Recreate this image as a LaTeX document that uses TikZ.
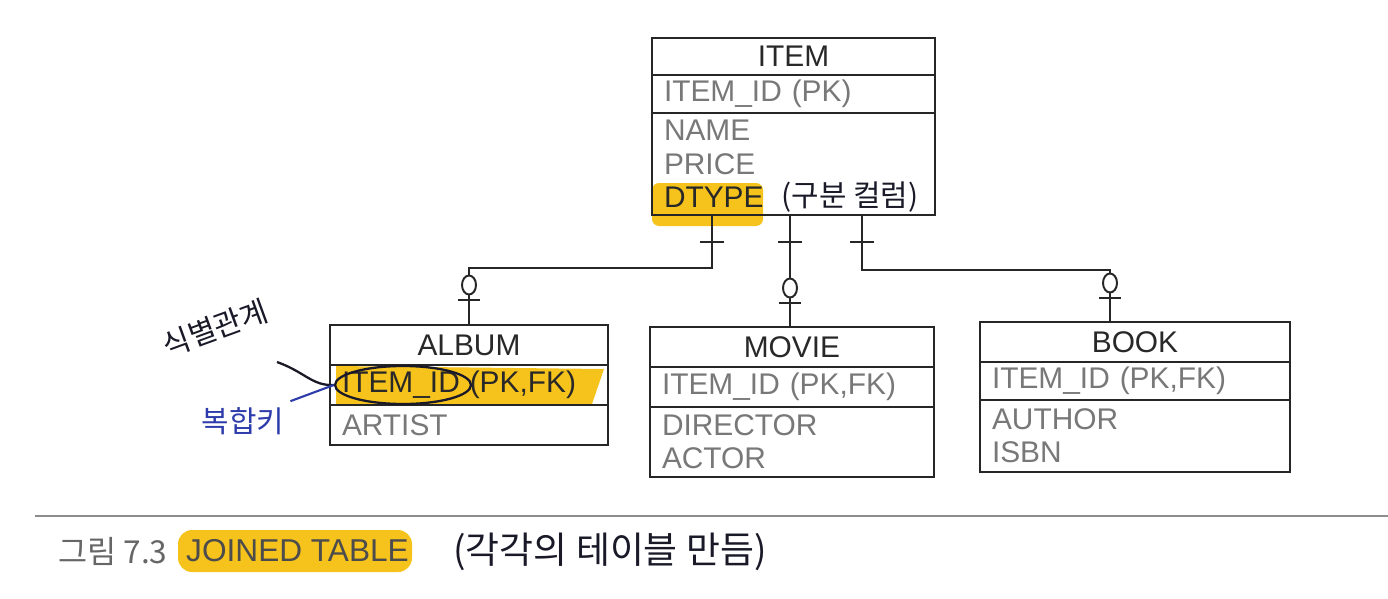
\documentclass[tikz,border=0pt]{standalone}
\usepackage{fontspec}
\setmainfont{Liberation Sans}
\newfontfamily\kr{Noto Sans CJK KR}
\usetikzlibrary{positioning,shapes.geometric}

\definecolor{hilite}{RGB}{246,194,28}
\definecolor{hdrgray}{RGB}{40,40,40}
\definecolor{fldgray}{RGB}{120,120,120}
\definecolor{pen}{RGB}{25,25,40}
\definecolor{bluepen}{RGB}{45,60,170}

\tikzset{
  cell/.style={draw=black!85, line width=1.3pt, rectangle, anchor=north west,
    inner xsep=0.24cm, inner ysep=0pt, outer sep=0pt, align=left, text=fldgray,
    font=\fontsize{17}{19}\selectfont},
  hdrcell/.style={cell, align=center, text=hdrgray},
  link/.style={line width=1.1pt, draw=black!85},
  note/.style={text=pen, font=\kr\fontsize{17}{17}\selectfont},
}

\begin{document}
\begin{tikzpicture}[x=0.02cm, y=-0.02cm]
  \useasboundingbox (0,0) rectangle (1388,598);

  % highlighter marks
  \fill[hilite, rounded corners=4] (652,183) rectangle (763,226);
  \fill[hilite] (336,366) -- (604,369) -- (592,404) -- (336,404) -- cycle;
  \fill[hilite, rounded corners=8] (178,530) rectangle (412,572);

  % ITEM
  \node[hdrcell, text width=5.18cm, minimum height=0.74cm] (item) at (652,38) {ITEM};
  \node[cell, text width=5.18cm, minimum height=0.76cm] (itemkey) at (item.south west) {ITEM\_ID (PK)};
  \node[cell, text width=5.18cm, minimum height=2.04cm] (itemf) at (itemkey.south west)
    {NAME\\PRICE\\{\color{hdrgray}DTYPE}};

  % ALBUM
  \node[hdrcell, text width=5.08cm, minimum height=0.8cm] (album) at (330,325) {ALBUM};
  \node[cell, text width=5.08cm, minimum height=0.8cm] (albumkey) at (album.south west)
    {{\color{hdrgray}ITEM\_ID (PK,FK)}};
  \node[cell, text width=5.08cm, minimum height=0.8cm] (albumf) at (albumkey.south west) {ARTIST};

  % MOVIE
  \node[hdrcell, text width=5.20cm, minimum height=0.8cm] (movie) at (650,327) {MOVIE};
  \node[cell, text width=5.20cm, minimum height=0.8cm] (moviekey) at (movie.south west) {ITEM\_ID (PK,FK)};
  \node[cell, text width=5.20cm, minimum height=1.4cm] (movief) at (moviekey.south west) {DIRECTOR\\ACTOR};

  % BOOK
  \node[hdrcell, text width=5.72cm, minimum height=0.8cm] (book) at (980,322) {BOOK};
  \node[cell, text width=5.72cm, minimum height=0.76cm] (bookkey) at (book.south west) {ITEM\_ID (PK,FK)};
  \node[cell, text width=5.72cm, minimum height=1.44cm] (bookf) at (bookkey.south west) {AUTHOR\\ISBN};

  % relations
  \coordinate (r1) at (712,215);
  \coordinate (r2) at (790,215);
  \coordinate (r3) at (862,215);
  \coordinate (bk) at (1110,322);
  \draw[link] (r1) -- ++(0,53) -| (album.north);
  \draw[link] (r2) -- (r2 |- movie.north);
  \draw[link] (r3) -- ++(0,55) -| (bk);

  \foreach \x in {712,790,862}
    \draw[link] (\x-12,242) -- (\x+12,242);
  \foreach \x/\y in {469/285, 790/288, 1110/283} {
    \draw[link, fill=white] (\x,\y) ellipse (0.14cm and 0.19cm);
    \draw[link] (\x-11,\y+15) -- (\x+11,\y+15);
  }

  % hand notes
  \node[note] (dtnote) at (850,197) {(구분 컬럼)};
  \node[draw=pen, line width=1.3pt, ellipse, minimum width=2.72cm, minimum height=0.76cm] (circ) at (403,385) {};
  \node[note, rotate=20] (idnote) at (215,328) {식별관계};
  \node[note, text=bluepen] (cknote) at (243,421) {복합키};
  \coordinate (c0) at (277,362);
  \draw[pen, line width=1.3pt] (c0) .. controls (305,372) and (312,386) .. (circ.west);
  \draw[bluepen, line width=1.2pt] (cknote.north east) -- (circ.west);

  % caption
  \draw[black!45, line width=0.8pt] (35,516) -- (1388,516);
  \node[anchor=west, text=black!60, font=\kr\fontsize{18}{18}\selectfont] (cap1) at (52,551) {그림 7.3};
  \node[anchor=west, text=black!70, font=\fontsize{18}{18}\selectfont] (cap2) at (180,551) {JOINED TABLE};
  \node[note, font=\kr\fontsize{21}{21}\selectfont] (capnote) at (610,552) {(각각의 테이블 만듬)};
\end{tikzpicture}
\end{document}
